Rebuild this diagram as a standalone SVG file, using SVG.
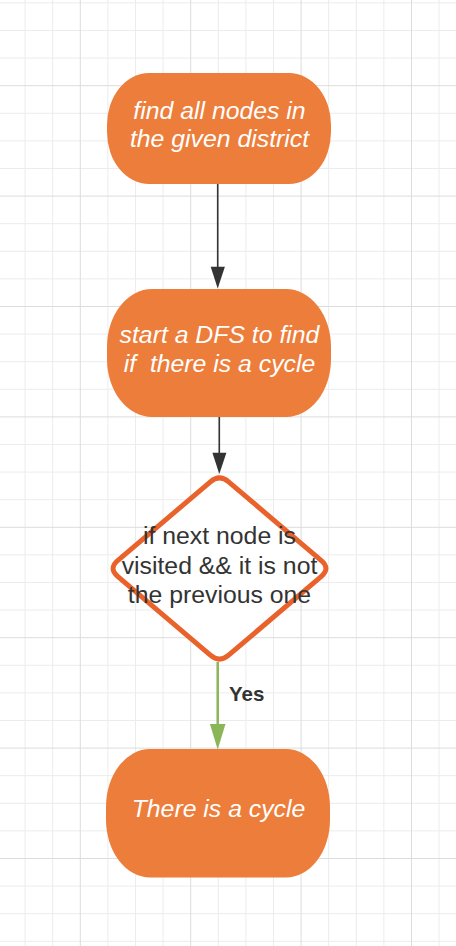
<svg xmlns="http://www.w3.org/2000/svg" width="456" height="946" viewBox="0 0 456 946">
<style>
.minor{stroke:#ececec;stroke-width:1;fill:none}
.major{stroke:#dcdcdc;stroke-width:1;fill:none}
.term{fill:#ED7D3A}
.lbl{font-family:"Liberation Sans",Arial,sans-serif;font-size:24.8px;text-anchor:middle}
.wt{fill:#ffffff;font-style:italic}
.dk{fill:#333333}
.edge{stroke:#333333;stroke-width:1.6;fill:none}
.yes{stroke:#8BB657;stroke-width:2.5;fill:none}
</style>
<rect width="456" height="946" fill="#ffffff"/>
<g id="grid">
<path class="minor" d="M25.1 0V946M52.7 0V946M107.9 0V946M135.5 0V946M163.1 0V946M218.3 0V946M245.9 0V946M273.5 0V946M328.7 0V946M356.3 0V946M383.9 0V946M439.1 0V946
M0 2.9H456M0 30.5H456M0 58.1H456M0 113.3H456M0 140.9H456M0 168.5H456M0 223.7H456M0 251.3H456M0 278.9H456M0 334.1H456M0 361.7H456M0 389.3H456M0 444.5H456M0 472.1H456M0 499.7H456M0 554.9H456M0 582.5H456M0 610.1H456M0 665.3H456M0 692.9H456M0 720.5H456M0 775.7H456M0 803.3H456M0 830.9H456M0 886.1H456M0 913.7H456M0 941.3H456"/>
<path class="major" d="M80.3 0V946M190.7 0V946M301.1 0V946M411.5 0V946M0 85.7H456M0 196.1H456M0 306.5H456M0 416.9H456M0 527.3H456M0 637.7H456M0 748.1H456M0 858.5H456"/>
</g>
<g id="connectors">
<line class="edge" x1="217.7" y1="184" x2="217.7" y2="268"/>
<polygon fill="#333333" points="210.7,266.7 224.9,266.7 217.7,288.5"/>
<line class="edge" x1="219.3" y1="417" x2="219.3" y2="454"/>
<polygon fill="#333333" points="212.4,452.7 226.4,452.7 219.3,474"/>
<line class="yes" x1="217.7" y1="662" x2="217.7" y2="726"/>
<polygon fill="#8BB657" points="209.9,724 225.5,724 217.7,749.5"/>
<text x="229" y="700.5" font-family="Liberation Sans,Arial,sans-serif" font-size="20.5" font-weight="bold" fill="#333333">Yes</text>
</g>
<g id="node1">
<rect class="term" x="107" y="73" width="224" height="111" rx="42" ry="52"/>
<text class="lbl wt" x="219.5" y="118.5">find all nodes in</text>
<text class="lbl wt" x="219.5" y="147">the given district</text>
</g>
<g id="node2">
<rect class="term" x="107" y="289" width="224" height="128" rx="45" ry="58"/>
<text class="lbl wt" x="219.5" y="342.7">start a DFS to find</text>
<text class="lbl wt" x="219.5" y="371.7" xml:space="preserve">if  there is a cycle</text>
</g>
<g id="node3">
<path d="M210.36 481.78Q219.5 474 228.64 481.78L321.36 560.72Q330.5 568.5 321.36 576.28L228.64 655.22Q219.5 663 210.36 655.22L117.64 576.28Q108.5 568.5 117.64 560.72Z" fill="#ffffff" stroke="#E9622B" stroke-width="5" stroke-linejoin="round"/>
<text class="lbl dk" x="219.5" y="544.3">if next node is</text>
<text class="lbl dk" x="219.5" y="573.5">visited &amp;&amp; it is not</text>
<text class="lbl dk" x="219.5" y="603.3">the previous one</text>
</g>
<g id="node4">
<rect class="term" x="106" y="749" width="224" height="128.5" rx="44" ry="58"/>
<text class="lbl wt" x="218.5" y="817.3">There is a cycle</text>
</g>
</svg>
